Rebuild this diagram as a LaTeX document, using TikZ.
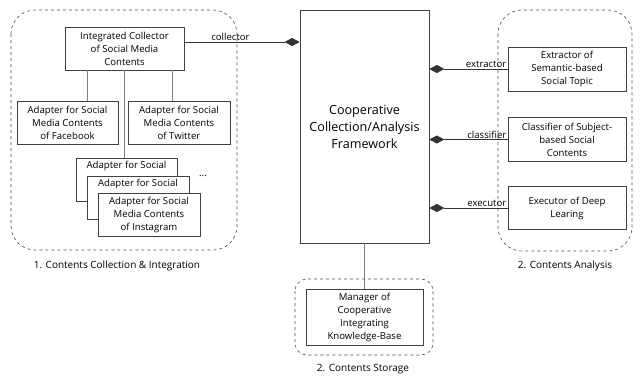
\documentclass[tikz,border=0pt]{standalone}
\usepackage{fontspec}
\setmainfont{Open Sans}
\usetikzlibrary{arrows.meta}
\begin{document}
\begin{tikzpicture}[x=1pt,y=-1pt,
    box/.style={draw=black!75,fill=white,line width=0.7pt,align=center,font=\fontsize{9.6}{13}\selectfont,inner sep=1pt},
    region/.style={draw=black!70,dashed,line width=0.6pt,rounded corners=24pt},
    tree/.style={draw=black!50,line width=0.8pt},
    comp/.style={draw=black!80,line width=0.7pt,-{Diamond[length=15pt,width=8pt]}},
    lbl/.style={font=\fontsize{9.6}{11}\selectfont,inner sep=1pt},
    grouplabel/.style={font=\fontsize{10}{12}\selectfont}]
    \useasboundingbox (0,0) rectangle (640,376);
    % groups
    \draw[region] (11,10) rectangle (237,250);
    \draw[region] (498,10) rectangle (632,251);
    \draw[region,rounded corners=12pt] (295,279) rectangle (433,355);
    \node[grouplabel] (capcol) at (117,266) {1. Contents Collection \& Integration};
    \node[grouplabel] (capana) at (565,266) {2. Contents Analysis};
    \node[grouplabel] (capsto) at (363,369) {2. Contents Storage};
    % framework and collector
    \node[box,minimum width=129pt,minimum height=233pt,font=\fontsize{12.6}{17}\selectfont] (fw) at (364.5,126.5) {Cooperative\\Collection/Analysis\\Framework};
    \node[box,minimum width=119pt,minimum height=43pt] (collector) at (124.5,48.5) {Integrated Collector\\of Social Media\\Contents};
    \node[box,minimum width=101pt,minimum height=43pt] (fb) at (67.5,122.5) {Adapter for Social\\Media Contents\\of Facebook};
    \node[box,minimum width=102pt,minimum height=43pt] (tw) at (179,122.5) {Adapter for Social\\Media Contents\\of Twitter};
    % stacked adapters, only the top line of the back ones shows
    \node[box,minimum width=101pt,minimum height=43pt,anchor=north] (ad1) at (126.5,158) {};
    \node[lbl,font=\fontsize{9.6}{13}\selectfont,anchor=north] (ad1txt) at ([yshift=-1.5pt]ad1.north) {Adapter for Social};
    \node[box,minimum width=102pt,minimum height=43pt,anchor=north] (ad2) at (138,176) {};
    \node[lbl,font=\fontsize{9.6}{13}\selectfont,anchor=north] (ad2txt) at ([yshift=-1.5pt]ad2.north) {Adapter for Social};
    \node[box,minimum width=102pt,minimum height=43pt,anchor=north] (ig) at (149,193) {Adapter for Social\\Media Contents\\of Instagram};
    \node[lbl] (dots) at (203,176) {...};
    \draw[tree] ([xshift=19.5pt]fb.north) -- ([xshift=19.5pt]fb.north |- collector.south);
    \draw[tree] ([xshift=-7pt]tw.north) -- ([xshift=-7pt]tw.north |- collector.south);
    \draw[tree] (collector.south) -- (collector.south |- ad1.north);
    \draw[comp] ([yshift=6.5pt]collector.east) -- ([yshift=6.5pt]collector.east -| fw.west) node[lbl,above,pos=0.4] {collector};
    % analysis side
    \node[box,minimum width=118pt,minimum height=44pt] (ext) at (567,69) {Extractor of\\Semantic-based\\Social Topic};
    \node[box,minimum width=118pt,minimum height=44pt] (cls) at (567,139.5) {Classifier of Subject-\\based Social\\Contents};
    \node[box,minimum width=118pt,minimum height=43pt] (exe) at (567,208) {Executor of Deep\\Learing};
    \draw[comp] (ext.west) -- (ext.west -| fw.east) node[lbl,above left,pos=0] {extractor};
    \draw[comp] (cls.west) -- (cls.west -| fw.east) node[lbl,above left,pos=0] {classifier};
    \draw[comp] (exe.west) -- (exe.west -| fw.east) node[lbl,above left,pos=0] {executor};
    % storage
    \node[box,minimum width=117pt,minimum height=56pt] (kb) at (364.5,317) {Manager of\\Cooperative\\Integrating\\Knowledge-Base};
    \draw[tree] (fw.south) -- (kb.north);
\end{tikzpicture}
\end{document}
